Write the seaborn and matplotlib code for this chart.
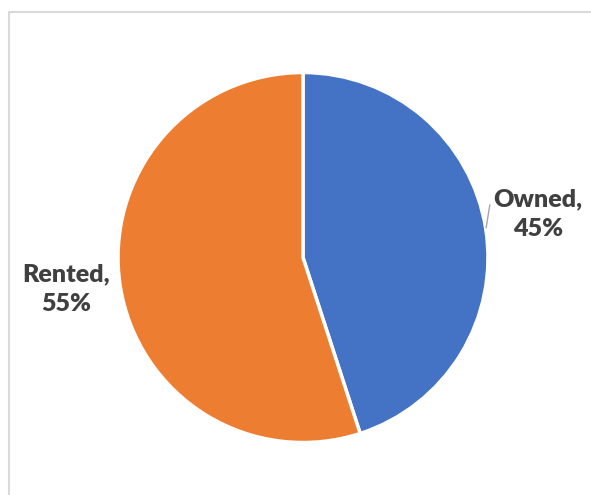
import matplotlib
matplotlib.use("Agg")
import matplotlib.pyplot as plt
import seaborn as sns
from matplotlib.lines import Line2D

categories = ["Owned", "Rented"]
values = [45, 55]
colors_hex = ["#4472C4", "#ED7D31"]

sns.set_theme(style="white")
plt.rcParams['font.family'] = ['Lato', 'DejaVu Sans']
palette = sns.color_palette(colors_hex)

fig = plt.figure(figsize=(5.91, 4.95), dpi=100)
fig.patch.set_facecolor("white")
ax = fig.add_axes([0.1997, 0.106, 0.626, 0.7475])
ax.pie(values, colors=palette, startangle=90, counterclock=False,
       wedgeprops=dict(edgecolor="white", linewidth=2.5), radius=1.0)
ax.set_xlim(-1, 1)
ax.set_ylim(-1, 1)
ax.set_aspect("auto")
ax.axis("off")

tc = "#404040"
ax.text(1.27, 0.235, f"{categories[0]},\n{values[0]}%", ha="center", va="center",
        fontsize=18, fontweight="heavy", color=tc, linespacing=1.45, clip_on=False)
ax.text(-1.281, -0.17, f"{categories[1]},\n{values[1]}%", ha="center", va="center",
        fontsize=18, fontweight="heavy", color=tc, linespacing=1.45, clip_on=False)
ax.plot([0.99, 1.01], [0.16, 0.285], color="#A6A6A6", lw=1, clip_on=False)

# outer border
fig.add_artist(Line2D([9/591, 9/591], [0, 1 - 12/495], transform=fig.transFigure, color="#D9D9D9", lw=1.5))
fig.add_artist(Line2D([9/591, 1], [1 - 12/495, 1 - 12/495], transform=fig.transFigure, color="#D9D9D9", lw=1.5))

fig.savefig("out.png", dpi=100)
